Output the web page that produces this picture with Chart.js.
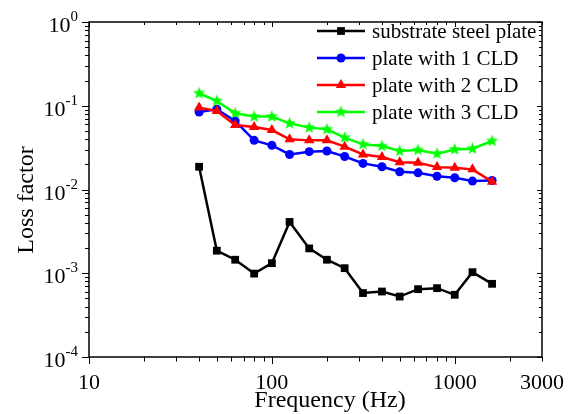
<!DOCTYPE html>
<html>
<head>
<meta charset="utf-8">
<script src="https://cdn.jsdelivr.net/npm/chart.js@4.4.1/dist/chart.umd.min.js"></script>
<style>
  html, body { margin: 0; padding: 0; background: #fff; }
  #wrap { width: 577px; height: 414px; }
</style>
</head>
<body>
<div id="wrap"><canvas id="lossChart" width="577" height="414"></canvas></div>
<script>
// 1/3 octave centre frequencies (Hz)
const freqs = [40, 50, 63, 80, 100, 125, 160, 200, 250, 315, 400, 500, 630, 800, 1000, 1250, 1600];

// loss factor
const substrate = [0.0187, 0.00186, 0.00145, 0.00099, 0.00132, 0.0041, 0.00198, 0.00145, 0.00115,
  0.00058, 0.000605, 0.000527, 0.000646, 0.000664, 0.000553, 0.00103, 0.000748];
const cld1 = [0.0843, 0.0908, 0.0658, 0.0386, 0.0337, 0.0262, 0.0283, 0.0288, 0.0248,
  0.0205, 0.0187, 0.0163, 0.0158, 0.0144, 0.0138, 0.0126, 0.0128];
const cld2 = [0.095, 0.0867, 0.0589, 0.0557, 0.0513, 0.0397, 0.0386, 0.0386, 0.0325,
  0.0262, 0.0244, 0.0212, 0.0209, 0.0185, 0.0182, 0.0174, 0.0124];
const cld3 = [0.141, 0.114, 0.0813, 0.0742, 0.0742, 0.0617, 0.0548, 0.0523, 0.0416,
  0.0346, 0.033, 0.0288, 0.0296, 0.0268, 0.0301, 0.0307, 0.0379];

const seriesNames = ["substrate steel plate", "plate with 1 CLD", "plate with 2 CLD", "plate with 3 CLD"];

const xLabels = [10, 100, 1000, 3000];
const yDecades = [0, -1, -2, -3, -4];

const FONT = "'Liberation Serif', 'Times New Roman', serif";

// filled five-point star used as the green marker
function makeStar(size, color) {
  const c = document.createElement("canvas");
  c.width = size; c.height = size;
  const g = c.getContext("2d");
  const cx = size / 2, cy = size / 2, ro = size / 2, ri = ro * 0.42;
  g.beginPath();
  for (let i = 0; i < 10; i++) {
    const r = i % 2 === 0 ? ro : ri;
    const a = -Math.PI / 2 + i * Math.PI / 5;
    g.lineTo(cx + r * Math.cos(a), cy + r * Math.sin(a));
  }
  g.closePath();
  g.fillStyle = color;
  g.fill();
  return c;
}
const starImg = makeStar(13, "#00ff00");

function toPoints(vals) {
  return freqs.map((f, i) => ({ x: f, y: vals[i] }));
}

const datasets = [
  { label: seriesNames[0], data: toPoints(substrate), borderColor: "#000000", backgroundColor: "#000000",
    pointStyle: "rect", pointRadius: 5.5, order: 3 },
  { label: seriesNames[1], data: toPoints(cld1), borderColor: "#0000ff", backgroundColor: "#0000ff",
    pointStyle: "circle", pointRadius: 4.5, order: 2 },
  { label: seriesNames[2], data: toPoints(cld2), borderColor: "#ff0000", backgroundColor: "#ff0000",
    pointStyle: "triangle", pointRadius: 6, order: 1 },
  { label: seriesNames[3], data: toPoints(cld3), borderColor: "#00ff00", backgroundColor: "#00ff00",
    pointStyle: starImg, pointRadius: 6, order: 0 }
];
datasets.forEach(d => {
  d.borderWidth = 2.5;
  d.pointBorderWidth = 0;
  d.tension = 0;
});

// frame, minor/major ticks, y labels with superscripts, axis titles, legend
const decorPlugin = {
  id: "decor",
  afterDraw(chart) {
    const ctx = chart.ctx;
    const a = chart.chartArea;
    const xs = chart.scales.x, ys = chart.scales.y;
    ctx.save();
    ctx.strokeStyle = "#000";
    ctx.lineWidth = 1.5;
    ctx.strokeRect(a.left, a.top, a.right - a.left, a.bottom - a.top);

    ctx.lineWidth = 1;
    ctx.beginPath();
    // x ticks
    for (let e = 1; e <= 3; e++) {
      for (let m = 1; m <= 9; m++) {
        const v = m * Math.pow(10, e);
        if (v > 3000) break;
        const px = Math.round(xs.getPixelForValue(v)) + 0.5;
        const major = (m === 1);
        ctx.moveTo(px, a.bottom); ctx.lineTo(px, a.bottom + (major ? 7 : 4.5));
        ctx.moveTo(px, a.top); ctx.lineTo(px, a.top + (major ? 5 : 3));
      }
    }
    // y ticks
    for (let e = -4; e <= 0; e++) {
      for (let m = 1; m <= 9; m++) {
        const v = m * Math.pow(10, e);
        if (v > 1) break;
        const py = Math.round(ys.getPixelForValue(v)) + 0.5;
        const major = (m === 1);
        ctx.moveTo(a.left, py); ctx.lineTo(a.left - (major ? 7 : 4), py);
        ctx.moveTo(a.right, py); ctx.lineTo(a.right - (major ? 5 : 3), py);
      }
    }
    ctx.stroke();

    // y labels 10^n
    ctx.fillStyle = "#000";
    ctx.textBaseline = "alphabetic";
    yDecades.forEach(e => {
      const py = ys.getPixelForValue(Math.pow(10, e));
      const exp = e === 0 ? "0" : "-" + Math.abs(e);
      ctx.font = "15px " + FONT;
      const ew = ctx.measureText(exp).width;
      const right = 78;
      ctx.textAlign = "left";
      ctx.fillText(exp, right - ew, py - 1);
      ctx.font = "22px " + FONT;
      ctx.textAlign = "right";
      ctx.fillText("10", right - ew, py + 10);
    });

    // axis titles
    ctx.font = "24px " + FONT;
    ctx.textAlign = "center";
    ctx.textBaseline = "middle";
    ctx.fillText("Frequency (Hz)", 330, 401);
    ctx.save();
    ctx.translate(27, 200);
    ctx.rotate(-Math.PI / 2);
    ctx.fillText("Loss factor", 0, 0);
    ctx.restore();

    // legend
    ctx.font = "21px " + FONT;
    ctx.textAlign = "left";
    ctx.textBaseline = "middle";
    chart.data.datasets.forEach((d, i) => {
      const ly = 31 + i * 27;
      ctx.strokeStyle = d.borderColor;
      ctx.lineWidth = 2.5;
      ctx.beginPath();
      ctx.moveTo(317, ly); ctx.lineTo(365, ly);
      ctx.stroke();
      ctx.fillStyle = d.backgroundColor;
      if (d.pointStyle instanceof HTMLCanvasElement) {
        ctx.drawImage(d.pointStyle, 341 - d.pointStyle.width / 2, ly - d.pointStyle.height / 2);
      } else if (Chart.helpers && Chart.helpers.drawPoint) {
        Chart.helpers.drawPoint(ctx, { pointStyle: d.pointStyle, radius: d.pointRadius, rotation: 0, borderWidth: 0 }, 341, ly);
      }
      ctx.fillStyle = "#000";
      ctx.fillText(d.label, 372, ly + 1);
    });
    ctx.restore();
  }
};

new Chart(document.getElementById("lossChart").getContext("2d"), {
  type: "line",
  data: { datasets },
  options: {
    responsive: false,
    animation: false,
    layout: { padding: { top: 22, right: 35, left: 0, bottom: 0 } },
    plugins: { legend: { display: false }, tooltip: { enabled: false } },
    scales: {
      x: {
        type: "logarithmic",
        min: 10, max: 3000,
        afterBuildTicks: s => { s.ticks = xLabels.map(v => ({ value: v })); },
        afterFit: s => { s.height = 57; },
        grid: { display: false, drawTicks: false },
        border: { display: false },
        ticks: {
          autoSkip: false, maxRotation: 0, padding: 13, color: "#000",
          font: { family: FONT, size: 22 },
          callback: v => String(v)
        }
      },
      y: {
        type: "logarithmic",
        min: 1e-4, max: 1,
        afterFit: s => { s.width = 89; },
        grid: { display: false, drawTicks: false },
        border: { display: false },
        ticks: { display: false }
      }
    }
  },
  plugins: [decorPlugin]
});
</script>
</body>
</html>
